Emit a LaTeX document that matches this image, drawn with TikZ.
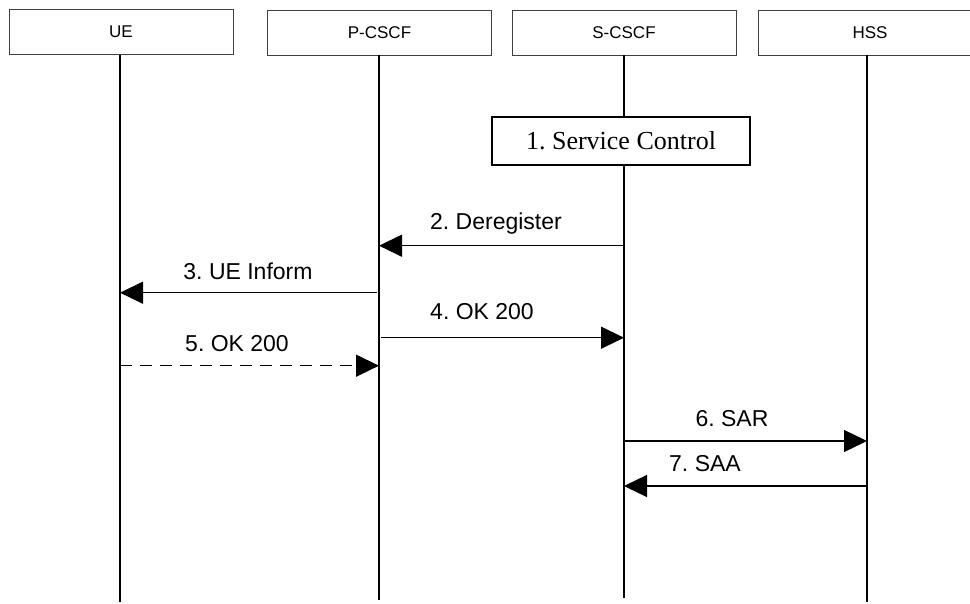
\documentclass[tikz,border=0pt]{standalone}
\usepackage{fontspec}
\setmainfont{Liberation Sans}
\newfontfamily\serifface{Liberation Serif}
\usetikzlibrary{arrows.meta}
\frenchspacing
\begin{document}
\begin{tikzpicture}[x=1pt,y=-1pt,
  entity/.style={draw=black!75,line width=0.9pt,minimum width=224pt,minimum height=45pt,inner sep=0pt,font=\fontsize{17}{17}\selectfont},
  lifeline/.style={line width=1.3pt},
  msg/.style={line width=1.3pt,-{Triangle[length=23pt,width=22pt]}},
  msglabel/.style={anchor=base,inner sep=0pt,font=\fontsize{23}{23}\selectfont},
  actionbox/.style={draw,line width=1.5pt,fill=white,minimum width=258pt,minimum height=48pt,inner sep=0pt,font=\serifface\fontsize{26}{26}\selectfont}
]
\useasboundingbox (0,0) rectangle (970,603);
\clip (0,0) rectangle (970,603);
% entities
\node[entity] (ue) at (121,32) {UE};
\node[entity] (pcscf) at (379.5,32.5) {P-CSCF};
\node[entity] (scscf) at (624,32.5) {S-CSCF};
\node[entity] (hss) at (870,32.5) {HSS};
% lifeline ends
\coordinate (ueT) at (120,55);
\coordinate (ueB) at (120,602);
\coordinate (pT) at (379,55);
\coordinate (pB) at (379,600);
\coordinate (sT) at (624,55);
\coordinate (sB) at (624,598);
\coordinate (hT) at (867,55);
\coordinate (hB) at (867,602);
\draw[lifeline] (ueT) -- (ueB);
\draw[lifeline] (pT) -- (pB);
\draw[lifeline] (sT) -- (sB);
\draw[lifeline] (hT) -- (hB);
% service control
\node[actionbox] (sc) at (621,141) {1. Service Control};
% message end points
\coordinate (s2) at (624,245.7);  \coordinate (p2) at (379,245.7);
\coordinate (p3) at (377,292.7);  \coordinate (u3) at (120,292.7);
\coordinate (p4) at (381,337.7);  \coordinate (s4) at (624,337.7);
\coordinate (u5) at (120,365.7);  \coordinate (p5) at (379,365.7);
\coordinate (s6) at (624,441);    \coordinate (h6) at (867,441);
\coordinate (h7) at (867,486);    \coordinate (s7) at (624,486);
% messages
\draw[msg] (s2) -- (p2);
\node[msglabel] (l2) at (496,229) {2. Deregister};
\draw[msg] (p3) -- (u3);
\node[msglabel] (l3) at (248,279) {3. UE Inform};
\draw[msg] (p4) -- (s4);
\node[msglabel] (l4) at (482,319) {4. OK 200};
\draw[msg,dash pattern=on 12pt off 8pt] (u5) -- (p5);
\node[msglabel] (l5) at (237,351) {5. OK 200};
\draw[msg] (s6) -- (h6);
\node[msglabel] (l6) at (732,426) {6. SAR};
\draw[msg] (h7) -- (s7);
\node[msglabel] (l7) at (705,471) {7. SAA};
\end{tikzpicture}
\end{document}
